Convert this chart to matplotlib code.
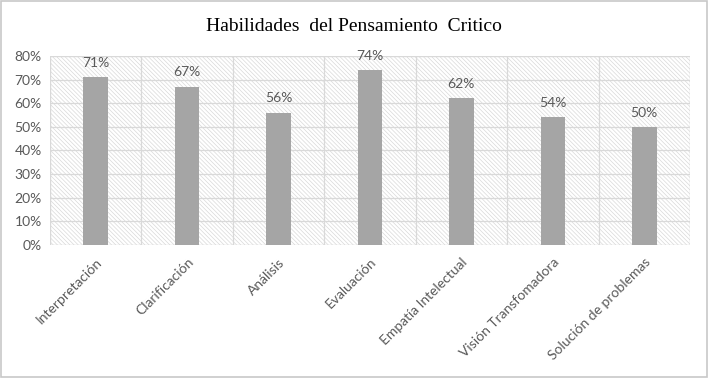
import matplotlib.pyplot as plt
from matplotlib.patches import Rectangle
from matplotlib.ticker import PercentFormatter, MultipleLocator

categories = ["Interpretación", "Clarificación", "Análisis", "Evaluación",
              "Empatía Intelectual", "Visión Transfomadora", "Solución de problemas"]
values = [71, 67, 56, 74, 62, 54, 50]

plt.rcParams['font.family'] = ['Lato', 'DejaVu Sans']
plt.rcParams['hatch.color'] = '#d4d4d4'
plt.rcParams['hatch.linewidth'] = 0.5

fig = plt.figure(figsize=(7.08, 3.78), dpi=100)
ax = fig.add_axes([0.0706, 0.352, 0.904, 0.500])

x = list(range(len(categories)))
ax.set_xlim(-0.5, len(categories) - 0.5)
ax.set_ylim(0, 80)

# hatched plot background
ax.add_patch(Rectangle((0, 0), 1, 1, transform=ax.transAxes, facecolor='white',
                       edgecolor='#d9d9d9', hatch='\\' * 8, lw=0.8, zorder=0))

for i in range(len(categories) + 1):
    ax.axvline(i - 0.5, color='#d9d9d9', lw=0.9, zorder=1)
ax.yaxis.set_major_locator(MultipleLocator(10))
ax.grid(axis='y', color='#d9d9d9', lw=0.9, zorder=1)
ax.set_axisbelow(True)

bars = ax.bar(x, values, width=0.27, color='#a5a5a5', zorder=2)
for b, v in zip(bars, values):
    ax.text(b.get_x() + b.get_width() / 2, v + 3.5, f"{v}%", ha='center', va='bottom',
            fontsize=10, color='#595959', zorder=3)

ax.yaxis.set_major_formatter(PercentFormatter(decimals=0))
ax.set_xticks(x)
ax.set_xticklabels(categories, rotation=45, ha='right', rotation_mode='anchor')
ax.tick_params(axis='both', length=0, labelsize=10, labelcolor='#595959')
ax.tick_params(axis='x', pad=8)
ax.tick_params(axis='y', pad=6)
for s in ax.spines.values():
    s.set_visible(False)

fig.text(0.5, 0.93, "Habilidades  del Pensamiento  Critico", ha='center', va='center',
         fontsize=14, family='Liberation Serif', color='black')

fig.patches.append(Rectangle((0.002, 0.003), 0.996, 0.994, transform=fig.transFigure,
                             fill=False, edgecolor='#c8c8c8', lw=1.2))

fig.savefig("out.png", dpi=100)
